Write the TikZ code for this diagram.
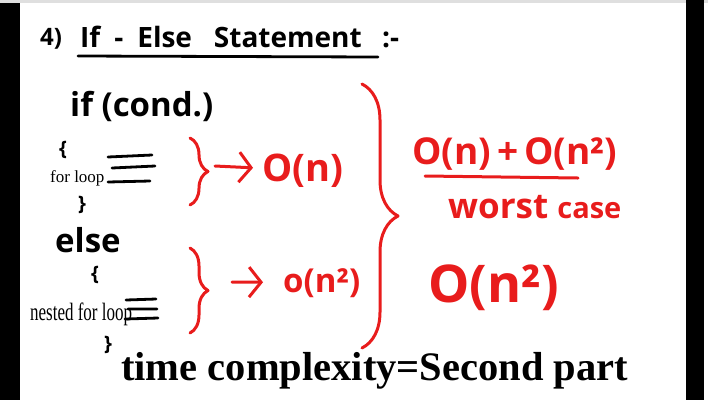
\documentclass[tikz,border=0pt]{standalone}
\usepackage{fontspec}
\setmainfont{Liberation Serif}
\newfontfamily\handfont{Open Sans}
\usetikzlibrary{decorations.pathreplacing, arrows.meta}
\definecolor{pen}{RGB}{232,28,28}
\tikzset{
	hand/.style={font=\handfont\bfseries\fontsize{#1}{#1}\selectfont, inner sep=0pt},
	typed/.style={font=\fontsize{#1}{#1}\selectfont, inner sep=0pt},
	redpen/.style={draw=pen, line width=3pt, line cap=round, line join=round},
	blackpen/.style={draw=black, line width=2.8pt, line cap=round},
	curly/.style={redpen, decorate, decoration={brace, amplitude=#1}},
	pointer/.style={redpen, -{Straight Barb[length=12pt, width=30pt, line width=3pt]}},
}
\begin{document}
\begin{tikzpicture}[x=1pt, y=-1pt]
	\useasboundingbox (0, 0) rectangle (708, 400) ;
	% edges of the screen
	\fill[gray!25] (0, 0) rectangle (708, 3) ;
	\fill[black] (0, 3) rectangle (20, 400) ;
	\fill[black] (686, 0) rectangle (704, 400) ;
		% heading
		\node (num)[hand=24, anchor=base west] at (40, 45) {4)} ;
		\node (ttl)[hand=28, anchor=base west] at (80, 47) {If\hspace{14pt}-\hspace{14pt}Else\hspace{22pt}Statement} ;
		\node (cln)[hand=28, anchor=base west] at (382, 47) {:-} ;
	\draw[blackpen] (78, 56) -- (378, 57) ;
		% left column
		\node (iff)[hand=33, anchor=base west] at (70, 116) {if (cond.)} ;
		\node (lb1)[hand=20] at (63, 150) {\{} ;
		\node (fl)[typed=17, anchor=base west] at (50, 182) {for loop} ;
		\node (rb1)[hand=20] at (82, 205) {\}} ;
		\node (els)[hand=33, anchor=base west] at (55, 252) {else} ;
		\node (lb2)[hand=20] at (95, 275) {\{} ;
		\node (nfl)[typed=25, anchor=base west, xscale=0.68] at (30, 320) {nested for loop} ;
		\node (rb2)[hand=20] at (108, 345) {\}} ;
	\draw[blackpen] (108, 157) -- (152, 155) (112, 168) -- (155, 166) (108, 182) -- (150, 181) ;
	\draw[blackpen] (126, 300) -- (156, 299) (128, 309) -- (157, 309) (125, 319) -- (158, 318) ;
		\node (tc)[typed=40.5, anchor=base west] at (121, 380) {\bfseries time complexity=Second part} ;
		% red: the two blocks
	\draw[curly=18pt] (190, 138) -- (190, 205) ;
	\draw[curly=18pt] (190, 248) -- (190, 333) ;
		\coordinate (t1) at (215, 166) ;
		\coordinate (t2) at (232, 282) ;
		\node (on)[hand=38, text=pen, anchor=base west] at (262, 181) {O(n)} ;
		\node (on2)[hand=33, text=pen, anchor=base west] at (283, 292) {o(n²)} ;
	\draw[pointer, shorten >=9pt] (t1) -- (on) ;
	\draw[pointer, shorten >=20pt] (t2) -- (on2) ;
	\draw[curly=36pt] (362, 84) -- (362, 348) ;
		% red: the result
		\node (sum)[hand=37, text=pen, anchor=base west] at (412, 164) {O(n)\,+\,O(n²)} ;
	\draw[redpen] (425, 176) -- (578, 178) ;
		\node (wc)[hand=35, text=pen, anchor=base west] at (448, 218) {worst {\fontsize{29}{29}\selectfont case}} ;
		\node (res)[hand=52, text=pen, anchor=base west] at (428, 302) {O(n²)} ;
\end{tikzpicture}
\end{document}
